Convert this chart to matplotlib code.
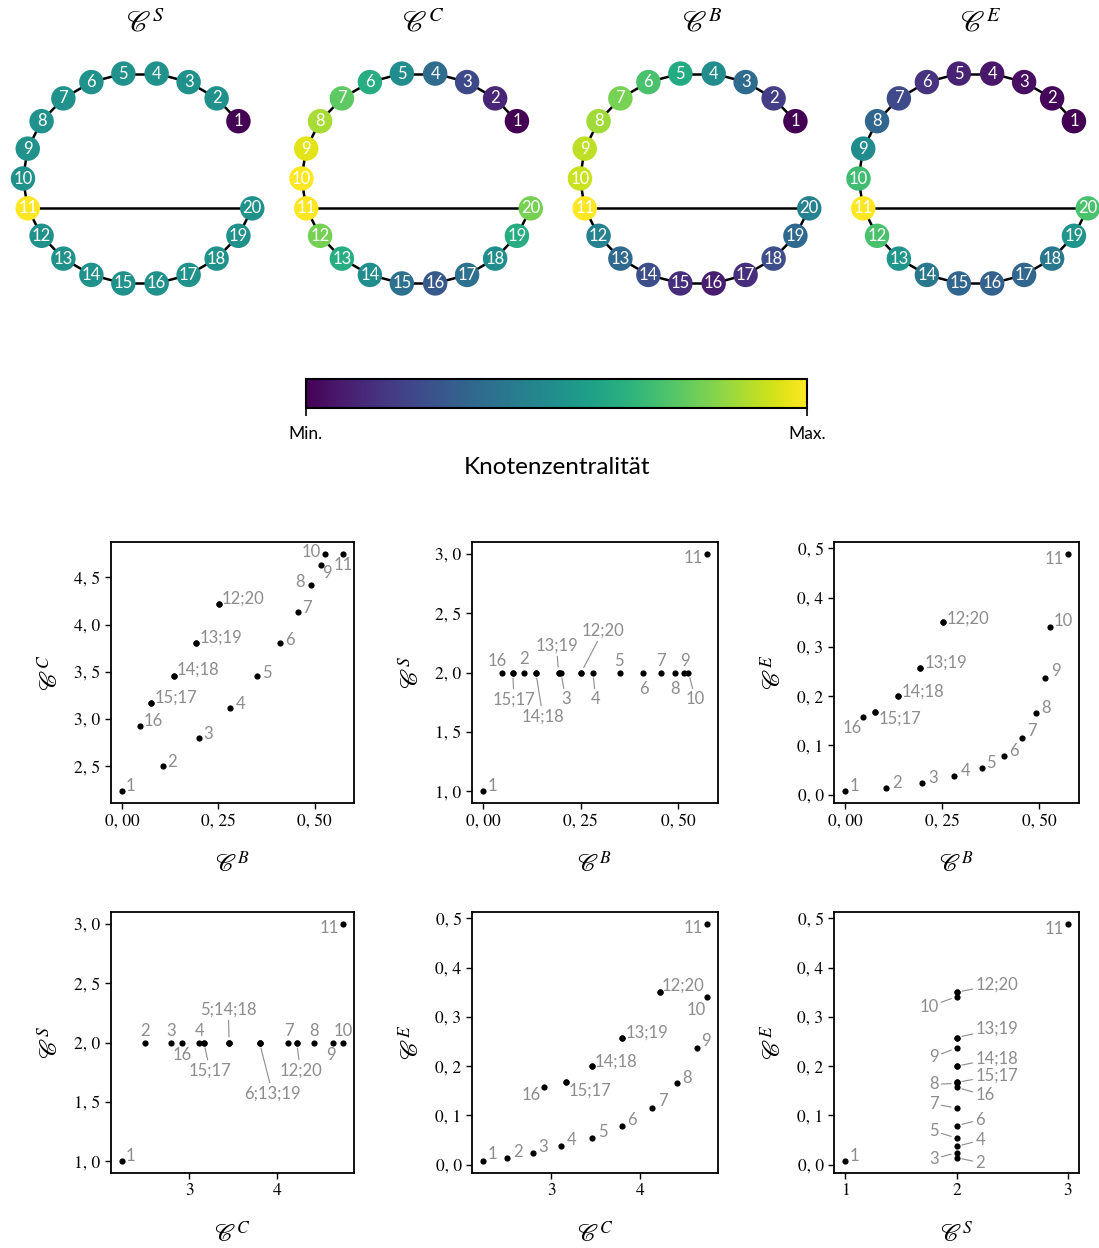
import numpy as np
import matplotlib
matplotlib.use('Agg')
import matplotlib as mpl
import matplotlib.pyplot as plt
from matplotlib.colors import Normalize
from matplotlib.ticker import MultipleLocator, FuncFormatter

plt.rcParams['mathtext.fontset'] = 'stix'
plt.rcParams['font.family'] = ['Lato', 'DejaVu Sans']

# Graph: Pfad 1-11 und Kreis 11-20
knoten = list(range(1, 21))
kanten = [(i, i + 1) for i in range(1, 20)] + [(11, 20)]

# Zentralitaeten je Knoten 1..20
C_S = [1, 2, 2, 2, 2, 2, 2, 2, 2, 2, 3, 2, 2, 2, 2, 2, 2, 2, 2, 2]
C_C = [2.235, 2.50, 2.794, 3.115, 3.455, 3.80, 4.13, 4.419, 4.634, 4.75,
       4.75, 4.222, 3.80, 3.455, 3.167, 2.923, 3.167, 3.455, 3.80, 4.222]
C_B = [0.0, 0.105, 0.199, 0.281, 0.351, 0.409, 0.456, 0.491, 0.515, 0.526,
       0.573, 0.251, 0.193, 0.135, 0.076, 0.047, 0.076, 0.135, 0.193, 0.251]
C_E = [0.007, 0.014, 0.024, 0.037, 0.054, 0.079, 0.115, 0.165, 0.237, 0.341,
       0.489, 0.350, 0.258, 0.200, 0.167, 0.157, 0.167, 0.200, 0.258, 0.350]

masse = [('S', C_S), ('C', C_C), ('B', C_B), ('E', C_E)]

# Beschriftungen: (Text, Knoten, dx, dy, ha, Linie)
anno_BC = [('1', 1, 4, 5, 'left', 0), ('2', 2, 5, 4, 'left', 0), ('3', 3, 5, 4, 'left', 0),
           ('4', 4, 5, 4, 'left', 0), ('5', 5, 5, 3, 'left', 0), ('6', 6, 5, 3, 'left', 0),
           ('7', 7, 4, 4, 'left', 0), ('8', 8, -6, 3, 'right', 0), ('9', 9, 2, -8, 'left', 0),
           ('10', 10, -4, 2, 'right', 0), ('11', 11, 0, -11, 'center', 0),
           ('12;20', 12, 3, 5, 'left', 0), ('13;19', 13, 3, 6, 'left', 0),
           ('14;18', 14, 3, 6, 'left', 0), ('15;17', 15, 3, 6, 'left', 0), ('16', 16, 3, 5, 'left', 0)]
anno_BS = [('1', 1, 4, 5, 'left', 0), ('11', 11, -4, -4, 'right', 0),
           ('16', 16, -4, 12, 'center', 0), ('2', 2, 0, 13, 'center', 0),
           ('15;17', 15, 1, -27, 'center', 1), ('14;18', 14, 7, -44, 'center', 1),
           ('13;19', 13, -2, 27, 'center', 1), ('3', 3, 5, -27, 'center', 1),
           ('12;20', 12, 22, 42, 'center', 1), ('4', 4, 3, -27, 'center', 1),
           ('5', 5, -1, 12, 'center', 0), ('6', 6, 1, -16, 'center', 0),
           ('7', 7, 0, 12, 'center', 0), ('8', 8, 0, -16, 'center', 0),
           ('9', 9, 1, 12, 'center', 0), ('10', 10, 7, -27, 'center', 1)]
anno_BE = [('1', 1, 4, 5, 'left', 0), ('2', 2, 6, 5, 'left', 0), ('3', 3, 6, 5, 'left', 0),
           ('4', 4, 6, 5, 'left', 0), ('5', 5, 5, 5, 'left', 0), ('6', 6, 5, 5, 'left', 0),
           ('7', 7, 5, 7, 'left', 0), ('8', 8, 5, 5, 'left', 0), ('9', 9, 6, 7, 'left', 0),
           ('10', 10, 4, 6, 'left', 0), ('11', 11, -4, -5, 'right', 0),
           ('12;20', 12, 4, 4, 'left', 0), ('13;19', 13, 4, 5, 'left', 0),
           ('14;18', 14, 4, 5, 'left', 0), ('15;17', 15, 4, -6, 'left', 0),
           ('16', 16, -2, -11, 'right', 0)]
anno_CS = [('1', 1, 4, 5, 'left', 0), ('11', 11, -4, -4, 'right', 0),
           ('2', 2, 0, 12, 'center', 0), ('3', 3, 0, 12, 'center', 0),
           ('16', 16, 0, -13, 'center', 0), ('4', 4, 0, 12, 'center', 0),
           ('15;17', 15, 6, -28, 'center', 1), ('5;14;18', 5, -1, 33, 'center', 1),
           ('6;13;19', 6, 13, -51, 'center', 1), ('7', 7, 0, 12, 'center', 0),
           ('12;20', 12, 4, -28, 'center', 1), ('8', 8, 0, 12, 'center', 0),
           ('9', 9, -2, -13, 'center', 0), ('10', 10, 0, 12, 'center', 0)]
anno_CE = [('1', 1, 4, 7, 'left', 0), ('2', 2, 6, 6, 'left', 0), ('3', 3, 5, 6, 'left', 0),
           ('4', 4, 5, 6, 'left', 0), ('5', 5, 6, 6, 'left', 0), ('6', 6, 5, 6, 'left', 0),
           ('7', 7, 6, 7, 'left', 0), ('8', 8, 5, 5, 'left', 0), ('9', 9, 5, 7, 'left', 0),
           ('10', 10, -1, -13, 'right', 0), ('11', 11, -4, -4, 'right', 0),
           ('12;20', 12, 2, 7, 'left', 0), ('13;19', 13, 3, 5, 'left', 0),
           ('14;18', 14, 3, 5, 'left', 0), ('15;17', 15, 3, -8, 'left', 0),
           ('16', 16, -4, -8, 'right', 0)]
anno_SE = [('1', 1, 4, 5, 'left', 0), ('11', 11, -4, -5, 'right', 0),
           ('12;20', 12, 19, 8, 'left', 1), ('10', 10, -18, -10, 'right', 1),
           ('13;19', 13, 19, 9, 'left', 1), ('9', 9, -18, -9, 'right', 1),
           ('14;18', 14, 19, 8, 'left', 1), ('15;17', 15, 19, 7, 'left', 1),
           ('8', 8, -18, -1, 'right', 1), ('16', 16, 19, -8, 'left', 1),
           ('7', 7, -18, 4, 'right', 1), ('6', 6, 19, 6, 'left', 1),
           ('5', 5, -18, 7, 'right', 1), ('4', 4, 19, 6, 'left', 1),
           ('3', 3, -18, -6, 'right', 1), ('2', 2, 19, -5, 'left', 1)]

W, H = 1099, 1248
fig = plt.figure(figsize=(W / 100, H / 100), dpi=100)


def px_axes(x0, y0, w, h):
    return fig.add_axes([x0 / W, 1 - (y0 + h) / H, w / W, h / H])


# --- Graphen oben ---
rx, ry = 117, 106
schritt = 180 / 11
winkel = np.deg2rad(180 + (np.array(knoten) - 10) * schritt)
gx, gy = np.cos(winkel), np.sin(winkel)
for i, (name, werte) in enumerate(masse):
    cx = 140 + i * 278.5
    ax = px_axes(cx - 139, 48.5, 278, 260)
    ax.set_xlim(-139 / rx, 139 / rx)
    ax.set_ylim(-130 / ry, 130 / ry)
    for a, b in kanten:
        ax.plot([gx[a - 1], gx[b - 1]], [gy[a - 1], gy[b - 1]], color='k', lw=1.8, zorder=1)
    ax.scatter(gx, gy, s=310, c=werte, cmap='viridis',
               norm=Normalize(min(werte), max(werte)), linewidths=0, zorder=2)
    for k in knoten:
        ax.text(gx[k - 1], gy[k - 1], str(k), color='white', ha='center',
                va='center', fontsize=12, zorder=3)
    ax.axis('off')
    fig.text((cx + 5) / W, 1 - 23 / H, rf'$\mathscr{{C}}^{{{name}}}$',
             ha='center', va='center', fontsize=21)

# --- Farbskala ---
cax = px_axes(306, 379, 501, 29)
cb = mpl.colorbar.ColorbarBase(cax, cmap=plt.get_cmap('viridis'), norm=Normalize(0, 1),
                               orientation='horizontal', ticks=[0, 1])
cb.set_ticklabels(['Min.', 'Max.'])
cb.outline.set_linewidth(1.5)
cax.tick_params(length=6, width=1.2, labelsize=12.5, pad=7)
cb.set_label('Knotenzentralität', fontsize=17.5, labelpad=11)

# --- Streudiagramme ---
def komma(dez):
    return FuncFormatter(lambda v, p: f'{v:.{dez}f}'.replace('.', ', '))


plots = [
    (C_B, C_C, 'B', 'C', anno_BC, (0.25, 2), (0.5, 1)),
    (C_B, C_S, 'B', 'S', anno_BS, (0.25, 2), (0.5, 1)),
    (C_B, C_E, 'B', 'E', anno_BE, (0.25, 2), (0.1, 1)),
    (C_C, C_S, 'C', 'S', anno_CS, (1, 0), (0.5, 1)),
    (C_C, C_E, 'C', 'E', anno_CE, (1, 0), (0.1, 1)),
    (C_S, C_E, 'S', 'E', anno_SE, (1, 0), (0.1, 1)),
]
spalten = [(111, 243), (472, 246), (834, 245)]
zeilen = [542, 912]

for j, (xw, yw, xn, yn, anno, xt, yt) in enumerate(plots):
    x0, w = spalten[j % 3]
    ax = px_axes(x0, zeilen[j // 3], w, 261)
    ax.scatter(xw, yw, s=20, color='k', linewidths=0, zorder=3)
    ax.xaxis.set_major_locator(MultipleLocator(xt[0]))
    ax.yaxis.set_major_locator(MultipleLocator(yt[0]))
    ax.xaxis.set_major_formatter(komma(xt[1]))
    ax.yaxis.set_major_formatter(komma(yt[1]))
    ax.tick_params(direction='out', length=4, width=1, labelsize=12.5,
                   labelfontfamily='STIXGeneral')
    for sp in ax.spines.values():
        sp.set_linewidth(1.3)
    ax.set_xlabel(rf'$\mathscr{{C}}^{{{xn}}}$', fontsize=18, labelpad=15)
    ax.set_ylabel(rf'$\mathscr{{C}}^{{{yn}}}$', fontsize=18, labelpad=9)
    for txt, k, dx, dy, ha, linie in anno:
        ax.annotate(txt, (xw[k - 1], yw[k - 1]), xytext=(dx, dy), textcoords='offset pixels',
                    ha=ha, va='center', color='0.55', fontsize=12,
                    arrowprops=dict(arrowstyle='-', color='0.55', lw=0.8,
                                    shrinkA=0, shrinkB=4) if linie else None)

fig.savefig('out.png', dpi=100)
